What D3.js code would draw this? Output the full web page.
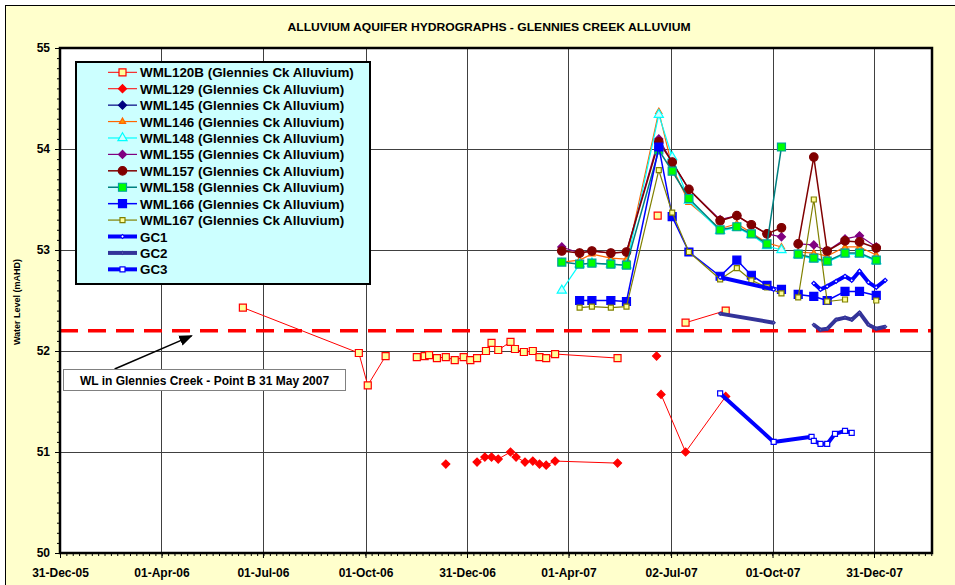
<!DOCTYPE html>
<html>
<head>
<meta charset="utf-8">
<script src="https://cdn.jsdelivr.net/npm/d3@7"></script>
<style>
  body { margin: 0; background: #fff; }
  svg text { font-family: "Liberation Sans", Arial, sans-serif; font-weight: bold; fill: #000; }
</style>
</head>
<body>
<svg width="955" height="585"></svg>
<script>
// ---- data (dates dd-mm, water level in mAHD) ----
const xTickLabels = ['2005-12-31', '2006-04-01', '2006-07-01', '2006-10-01', '2006-12-31',
                     '2007-04-01', '2007-07-02', '2007-10-01', '2007-12-31'];
const yTicks = [50, 51, 52, 53, 54, 55];
const creekLevel = 52.2;   // WL in Glennies Creek - Point B 31 May 2007

const wml120bDates = ['2006-06-13', '2006-09-25', '2006-10-03', '2006-10-19', '2006-11-01', '2006-11-16',
  '2006-11-23', '2006-11-27', '2006-12-04', '2006-12-12', '2006-12-20', '2006-12-28', '2007-01-03',
  '2007-01-09', '2007-01-17', '2007-01-22', '2007-01-28', '2007-02-08', '2007-02-12', '2007-02-20',
  '2007-02-28', '2007-03-06', '2007-03-12', '2007-03-20', '2007-05-15', '2007-06-01', '2007-06-20',
  '2007-07-01', '2007-07-15', '2007-08-20'];
const wml120bLevels = [52.43, 51.98, 51.66, 51.95, null, 51.94, 51.95, 51.96, 51.93, 51.94, 51.91,
  51.94, 51.91, 51.93, 52.00, 52.08, 52.01, 52.09, 52.02, 51.99, 52.00, 51.94, 51.93, 51.97, 51.93,
  null, 53.34, null, 52.28, 52.40];

const wml129Dates = ['2006-12-12', '2006-12-30', '2007-01-09', '2007-01-16', '2007-01-22', '2007-01-28',
  '2007-02-08', '2007-02-13', '2007-02-21', '2007-02-28', '2007-03-06', '2007-03-12', '2007-03-20',
  '2007-05-15', '2007-06-01', '2007-06-19', '2007-06-21', '2007-06-23', '2007-07-15', '2007-08-20'];
const wml129Levels = [50.88, null, 50.90, 50.95, 50.95, 50.93, 51.00, 50.95, 50.90, 50.91, 50.88,
  50.87, 50.91, 50.89, null, 51.95, null, 51.57, 51.00, 51.55];

// monitoring round dates shared by the other bores (2007-10-16 is an empty row)
const roundDates = ['2007-03-26', '2007-04-11', '2007-04-22', '2007-05-09', '2007-05-23', '2007-06-21',
  '2007-07-03', '2007-07-18', '2007-08-15', '2007-08-30', '2007-09-12', '2007-09-26', '2007-10-09',
  '2007-10-16', '2007-10-24', '2007-11-07', '2007-11-19', '2007-12-05', '2007-12-18', '2008-01-02'];
const wml145Levels = roundDates.map(() => null);
const wml146Levels = [52.88, 52.90, 52.96, 52.92, 52.91, 54.37, 53.82, 53.47, 53.21, 53.26, 53.17,
  53.07, 53.03, null, 52.98, 52.97, 52.94, 53.03, 53.03, 52.95];
const wml148Levels = [52.60, 52.86, 52.87, 52.86, 52.85, 54.34, 53.92, 53.49, 53.19, 53.22, 53.15,
  53.04, 53.00, null, 52.95, 52.91, 52.88, 52.96, 52.96, 52.89];
const wml155Levels = [53.03, 52.97, 52.99, 52.97, 52.98, 54.10, 53.87, 53.60, 53.30, 53.34, 53.25,
  53.16, 53.13, null, 53.06, 53.05, 52.99, 53.11, 53.14, 53.03];
const wml157Levels = [52.99, 52.97, 52.99, 52.97, 52.98, 54.07, 53.87, 53.60, 53.29, 53.34, 53.25,
  53.16, 53.22, null, 53.06, 53.92, 52.99, 53.09, 53.08, 53.02];
const wml158Levels = [52.88, 52.86, 52.87, 52.86, 52.85, 53.99, 53.78, 53.51, 53.20, 53.23, 53.16,
  53.06, 54.02, null, 52.96, 52.92, 52.89, 52.97, 52.97, 52.90];
const wml166Levels = [null, 52.50, 52.50, 52.50, 52.49, 54.02, 53.33, 52.98, 52.74, 52.90, 52.75,
  52.65, 52.61, null, 52.56, 52.54, 52.50, 52.59, 52.59, 52.55];
const wml167Levels = [null, 52.43, 52.44, 52.43, 52.44, 53.79, 53.37, 52.98, 52.71, 52.82, 52.70,
  52.63, 52.57, null, 52.53, 53.50, 52.49, 52.51, null, 52.50];

const gcDates = ['2007-08-15', '2007-10-02', '2007-10-20', '2007-11-07', '2007-11-13', '2007-11-19',
  '2007-11-27', '2007-12-05', '2007-12-11', '2007-12-18', '2007-12-26', '2008-01-02', '2008-01-10'];
const gc1Levels = [52.73, 52.61, null, 52.67, 52.61, 52.64, 52.69, 52.74, 52.70, 52.79, 52.68, 52.63, 52.70];
const gc2Levels = [52.37, 52.28, null, 52.26, 52.21, 52.22, 52.31, 52.33, 52.31, 52.38, 52.26, 52.22, 52.24];
const gc3Dates = ['2007-08-15', '2007-10-02', '2007-11-05', '2007-11-07', '2007-11-13', '2007-11-19',
  '2007-11-26', '2007-12-05', '2007-12-11'];
const gc3Levels = [51.58, 51.10, 51.15, 51.11, 51.08, 51.08, 51.18, 51.21, 51.19];

// ---- styling of each series (legend order = drawing order) ----
const series = [
  { name: 'WML120B (Glennies Ck Alluvium)', dates: wml120bDates, levels: wml120bLevels, color: '#FF0000', lw: 1, shape: 'square', size: 7, fill: '#FFFF99', stroke: '#FF0000' },
  { name: 'WML129 (Glennies Ck Alluvium)', dates: wml129Dates, levels: wml129Levels, color: '#FF0000', lw: 1, shape: 'diamond', size: 8, fill: '#FF0000', stroke: '#FF0000' },
  { name: 'WML145 (Glennies Ck Alluvium)', dates: roundDates, levels: wml145Levels, color: '#000080', lw: 1.2, shape: 'diamond', size: 8, fill: '#000080', stroke: '#000080' },
  { name: 'WML146 (Glennies Ck Alluvium)', dates: roundDates, levels: wml146Levels, color: '#FF6600', lw: 1.2, shape: 'triangle', size: 6, fill: '#FF9900', stroke: '#FF6600' },
  { name: 'WML148 (Glennies Ck Alluvium)', dates: roundDates, levels: wml148Levels, color: '#00FFFF', lw: 1.2, shape: 'triangle', size: 9, fill: '#CCFFFF', stroke: '#00FFFF' },
  { name: 'WML155 (Glennies Ck Alluvium)', dates: roundDates, levels: wml155Levels, color: '#800080', lw: 1.2, shape: 'diamond', size: 8, fill: '#800080', stroke: '#800080' },
  { name: 'WML157 (Glennies Ck Alluvium)', dates: roundDates, levels: wml157Levels, color: '#800000', lw: 1.5, shape: 'circle', size: 8.5, fill: '#800000', stroke: '#800000' },
  { name: 'WML158 (Glennies Ck Alluvium)', dates: roundDates, levels: wml158Levels, color: '#008080', lw: 1.5, shape: 'square', size: 8, fill: '#00FF00', stroke: '#00A0A0' },
  { name: 'WML166 (Glennies Ck Alluvium)', dates: roundDates, levels: wml166Levels, color: '#0000FF', lw: 1.5, shape: 'square', size: 8, fill: '#0000FF', stroke: '#0000FF' },
  { name: 'WML167 (Glennies Ck Alluvium)', dates: roundDates, levels: wml167Levels, color: '#808000', lw: 1.2, shape: 'square', size: 5, fill: '#FFFF99', stroke: '#808000' },
  { name: 'GC1', dates: gcDates, levels: gc1Levels, color: '#0000FF', lw: 4, shape: 'diamond', size: 4, fill: '#FFFFFF', stroke: '#0000FF' },
  { name: 'GC2', dates: gcDates, levels: gc2Levels, color: '#333399', lw: 4, shape: 'diamond', size: 3, fill: '#8080C0', stroke: '#333399' },
  { name: 'GC3', dates: gc3Dates, levels: gc3Levels, color: '#0000FF', lw: 4, shape: 'square', size: 5, fill: '#FFFFFF', stroke: '#0000FF' }
];

const parse = d3.utcParse('%Y-%m-%d');
const svg = d3.select('svg');

// chart area background
svg.append('rect')
  .attr('x', 5.5).attr('y', 5.5).attr('width', 960).attr('height', 590)
  .attr('fill', '#FFFFCC').attr('stroke', '#000').attr('stroke-width', 1);

const plotL = 60, plotR = 932, plotT = 48, plotB = 553;

const x = d3.scaleUtc()
  .domain([parse('2005-12-31'), parse('2008-02-21')])
  .range([plotL, plotR]);
const y = d3.scaleLinear().domain([50, 55]).range([plotB, plotT]);

// plot area
svg.append('rect')
  .attr('x', plotL).attr('y', plotT).attr('width', plotR - plotL).attr('height', plotB - plotT)
  .attr('fill', '#fff');

const xTickDates = xTickLabels.map(parse);

// grid
svg.append('g')
  .selectAll('line')
  .data(xTickDates.slice(1))
  .join('line')
  .attr('x1', d => Math.round(x(d)) + 0.5).attr('x2', d => Math.round(x(d)) + 0.5)
  .attr('y1', plotT).attr('y2', plotB)
  .attr('stroke', '#404040').attr('stroke-width', 1);
svg.append('g')
  .selectAll('line')
  .data(yTicks.slice(1, -1))
  .join('line')
  .attr('x1', plotL).attr('x2', plotR)
  .attr('y1', d => Math.round(y(d)) + 0.5).attr('y2', d => Math.round(y(d)) + 0.5)
  .attr('stroke', '#404040').attr('stroke-width', 1);

// minor ticks
const dayMs = 86400000;
const minorX = d3.range(0, 140).map(i => new Date(xTickDates[0].getTime() + i * 91.25 / 16 * dayMs))
  .filter(d => d <= x.domain()[1]);
svg.append('g')
  .attr('transform', `translate(0,${plotB})`)
  .call(d3.axisBottom(x).tickValues(minorX).tickSize(3).tickFormat(''))
  .call(g => g.select('.domain').remove());
svg.append('g')
  .attr('transform', `translate(${plotL},0)`)
  .call(d3.axisLeft(y).tickValues(d3.range(50, 55.001, 0.1)).tickSize(3).tickFormat(''))
  .call(g => g.select('.domain').remove());

// major axes
svg.append('g')
  .attr('transform', `translate(0,${plotB})`)
  .call(d3.axisBottom(x).tickValues(xTickDates).tickSize(5).tickPadding(10)
    .tickFormat(d3.utcFormat('%d-%b-%y')))
  .call(g => g.select('.domain').remove())
  .call(g => g.selectAll('text').attr('font-size', 12).attr('font-family', null));
svg.append('g')
  .attr('transform', `translate(${plotL},0)`)
  .call(d3.axisLeft(y).tickValues(yTicks).tickSize(5).tickPadding(5).tickFormat(d3.format('d')))
  .call(g => g.select('.domain').remove())
  .call(g => g.selectAll('text').attr('font-size', 12).attr('font-family', null));

// creek level reference line
svg.append('line')
  .attr('x1', plotL).attr('x2', plotR)
  .attr('y1', y(creekLevel)).attr('y2', y(creekLevel))
  .attr('stroke', '#FF0000').attr('stroke-width', 3.5)
  .attr('stroke-dasharray', '18,10');

// markers
function symbolPath(shape, size) {
  if (shape === 'square') return d3.symbol(d3.symbolSquare, size * size)();
  if (shape === 'diamond') return d3.symbol(d3.symbolSquare, size * size / 2)();
  if (shape === 'triangle') return d3.symbol(d3.symbolTriangle, size * size * 0.45)();
  return d3.symbol(d3.symbolCircle, Math.PI * size * size / 4)();
}
function addMarker(g, s, cx, cy) {
  g.append('path')
    .attr('d', symbolPath(s.shape, s.size))
    .attr('transform', `translate(${cx},${cy})` + (s.shape === 'diamond' ? ' rotate(45)' : ''))
    .attr('fill', s.fill).attr('stroke', s.stroke).attr('stroke-width', 1.2);
}

svg.append('clipPath').attr('id', 'clip')
  .append('rect').attr('x', plotL).attr('y', plotT).attr('width', plotR - plotL).attr('height', plotB - plotT);

const plot = svg.append('g').attr('clip-path', 'url(#clip)');
const line = d3.line()
  .defined(d => d.v !== null)
  .x(d => x(d.date))
  .y(d => y(d.v));

series.forEach(s => {
  const pts = s.dates.map((d, i) => ({ date: parse(d), v: s.levels[i] }));
  const g = plot.append('g');
  g.append('path')
    .datum(pts)
    .attr('d', line)
    .attr('fill', 'none')
    .attr('stroke', s.color)
    .attr('stroke-width', s.lw)
    .attr('stroke-linejoin', 'round');
  pts.filter(p => p.v !== null).forEach(p => addMarker(g, s, x(p.date), y(p.v)));
});

// plot frame
svg.append('rect')
  .attr('x', plotL).attr('y', plotT).attr('width', plotR - plotL).attr('height', plotB - plotT)
  .attr('fill', 'none').attr('stroke', '#000').attr('stroke-width', 2.5);

// legend
const legend = svg.append('g');
legend.append('rect')
  .attr('x', 76).attr('y', 62).attr('width', 294).attr('height', 222)
  .attr('fill', '#CCFFFF').attr('stroke', '#000').attr('stroke-width', 2);
series.forEach((s, i) => {
  const ly = 72.3 + i * 16.42;
  legend.append('line')
    .attr('x1', 108).attr('x2', 137).attr('y1', ly).attr('y2', ly)
    .attr('stroke', s.color).attr('stroke-width', s.lw);
  addMarker(legend, s, 122.5, ly);
  legend.append('text')
    .attr('x', 140).attr('y', ly + 5)
    .attr('font-size', 13.4)
    .text(s.name);
});

// annotation for the creek level
const arrowTail = [x(parse('2006-02-18')), 369];
const arrowHead = [x(parse('2006-04-28')), y(52.15)];
svg.append('defs').append('marker')
  .attr('id', 'arrow').attr('viewBox', '0 0 10 10')
  .attr('refX', 9).attr('refY', 5)
  .attr('markerWidth', 9).attr('markerHeight', 9)
  .attr('orient', 'auto')
  .append('path').attr('d', 'M0,1 L10,5 L0,9 Z').attr('fill', '#000');
svg.append('line')
  .attr('x1', arrowTail[0]).attr('y1', arrowTail[1])
  .attr('x2', arrowHead[0]).attr('y2', arrowHead[1])
  .attr('stroke', '#000').attr('stroke-width', 1.5)
  .attr('marker-end', 'url(#arrow)');
svg.append('rect')
  .attr('x', 63.5).attr('y', 369.5).attr('width', 282).attr('height', 21)
  .attr('fill', '#fff').attr('stroke', '#808080').attr('stroke-width', 1);
svg.append('text')
  .attr('x', 204.5).attr('y', 385)
  .attr('text-anchor', 'middle')
  .attr('font-size', 12)
  .text('WL in Glennies Creek - Point B 31 May 2007');

// titles
svg.append('text')
  .attr('x', 489).attr('y', 31)
  .attr('text-anchor', 'middle')
  .attr('font-size', 11)
  .style('font-family', '"Liberation Sans Narrow", "Arial Narrow", "Liberation Sans", sans-serif')
  .attr('textLength', 403).attr('lengthAdjust', 'spacingAndGlyphs')
  .text('ALLUVIUM AQUIFER HYDROGRAPHS - GLENNIES CREEK ALLUVIUM');

svg.append('text')
  .attr('transform', 'translate(20,302) rotate(-90)')
  .attr('text-anchor', 'middle')
  .attr('font-size', 9)
  .text('Water Level (mAHD)');
</script>
</body>
</html>
